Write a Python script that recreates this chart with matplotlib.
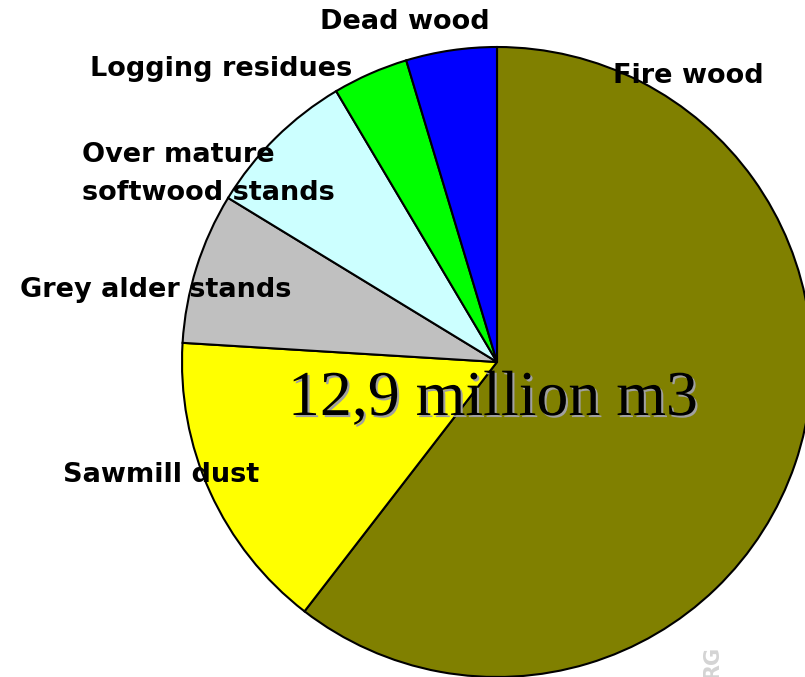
import matplotlib
matplotlib.use("Agg")
import matplotlib.pyplot as plt
import matplotlib.patheffects as pe

# wood fuel resources, million m3 (total 12,9)
sources = ["Fire wood", "Sawmill dust", "Grey alder stands",
           "Over mature\nsoftwood stands", "Logging residues", "Dead wood"]
volumes = [7.8, 2.0, 1.0, 1.0, 0.5, 0.6]
colors = ["#808000", "#FFFF00", "#C0C0C0", "#CCFFFF", "#00FF00", "#0000FF"]
total_label = "12,9 million m3"

W, H = 805, 677
fig = plt.figure(figsize=(W / 100, H / 100), dpi=100)
ax = fig.add_axes([0, 0, 1, 1])

# pie centre and radius in pixel units (y measured from the bottom)
ax.pie(volumes, colors=colors, startangle=90, counterclock=False,
       center=(497, H - 362), radius=315,
       wedgeprops=dict(edgecolor="black", linewidth=1.5))

ax.set_xlim(0, W)
ax.set_ylim(0, H)
ax.set_aspect("equal")
ax.axis("off")

lab = dict(fontsize=19.5, fontweight="bold", family="DejaVu Sans", va="center")

# label positions, pixels from top-left
ax.text(613, H - 76, sources[0], ha="left", **lab)
ax.text(63, H - 475, sources[1], ha="left", **lab)
ax.text(20, H - 290, sources[2], ha="left", **lab)
ax.text(82, H - 174, sources[3], ha="left", linespacing=1.55, **lab)
ax.text(90, H - 69, sources[4], ha="left", **lab)
ax.text(405, H - 22, sources[5], ha="center", **lab)

# centre total with a grey drop shadow
ax.text(493, H - 400, total_label, ha="center", va="center", fontsize=46,
        family="Liberation Serif", color="black",
        path_effects=[pe.SimplePatchShadow(offset=(1.5, -1.5),
                                           shadow_rgbFace="#A0A0A0", alpha=1),
                      pe.Normal()])

# faint watermark in the corner
ax.text(712, H - 662, "RG", rotation=90, ha="center", va="center",
        fontsize=15, fontweight="bold", color="#D4D4D4")

fig.savefig("out.png", dpi=100)
